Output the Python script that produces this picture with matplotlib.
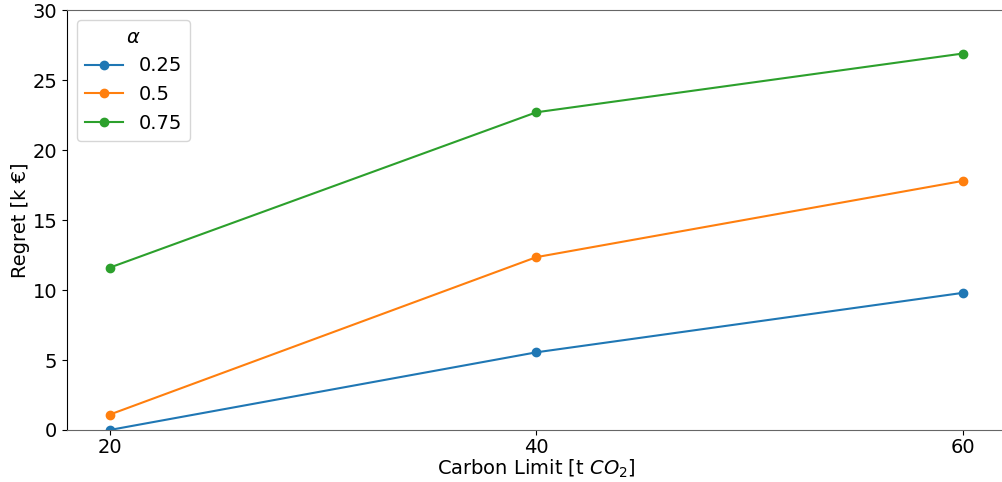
import matplotlib
matplotlib.use('Agg')
import matplotlib.pyplot as plt

carbon_limits = [20, 40, 60]
alphas = ['0.25', '0.5', '0.75']
regret_025 = [0.0, 5.55, 9.8]
regret_05 = [1.1, 12.35, 17.8]
regret_075 = [11.6, 22.7, 26.9]
colors = ['#1f77b4', '#ff7f0e', '#2ca02c']

plt.rcParams['font.size'] = 14

fig = plt.figure(figsize=(10.02, 4.82), dpi=100)
ax = fig.add_axes([0.0669, 0.1079, 0.9367, 0.8711])

for vals, lab, c in zip([regret_025, regret_05, regret_075], alphas, colors):
    ax.plot(carbon_limits, vals, marker='o', color=c, label=lab)

ax.set_xlim(18, 62)
ax.set_ylim(0, 30)
ax.set_xticks(carbon_limits)
ax.set_yticks([0, 5, 10, 15, 20, 25, 30])
ax.tick_params(axis='x', pad=2.5)
ax.set_xlabel('Carbon Limit [t $CO_2$]', labelpad=0)
ax.set_ylabel('Regret [k €]', labelpad=2)
ax.spines['right'].set_visible(False)
ax.spines['top'].set_color('#666666')
ax.spines['bottom'].set_color('#666666')
ax.legend(title=r'$\alpha$', loc='upper left')

fig.savefig('out.png', dpi=100)
